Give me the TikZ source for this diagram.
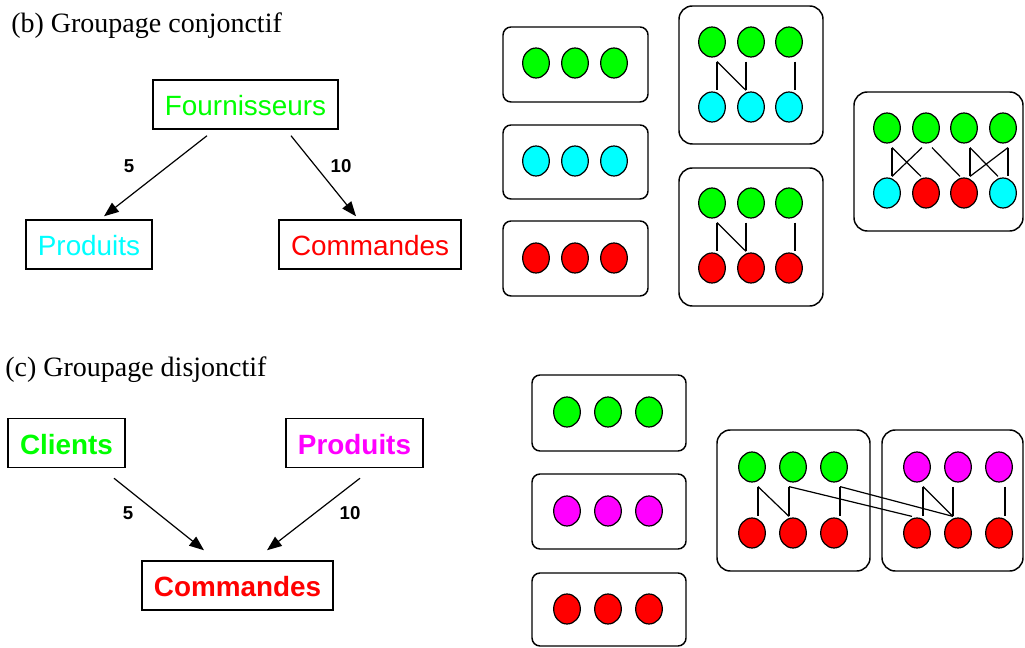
\documentclass[tikz,border=0pt]{standalone}
\usepackage{fontspec}
\setmainfont{Liberation Serif}
\setsansfont{Liberation Sans}
\usepackage{tikz}
\usetikzlibrary{arrows.meta,shapes.geometric,calc}

\definecolor{vert}{RGB}{0,255,0}
\definecolor{bleu}{RGB}{0,255,255}
\definecolor{rouge}{RGB}{255,0,0}
\definecolor{rose}{RGB}{255,0,255}

\tikzset{
    titre/.style={anchor=base west, inner sep=0pt, font=\fontsize{21}{25}\selectfont},
    table/.style={draw, line width=1.1pt, inner xsep=9pt, inner ysep=0pt,
        minimum height=36.75pt, text height=18pt, text depth=1pt,
        font=\sffamily\fontsize{20.9}{25}\selectfont},
    poids/.style={font=\sffamily\bfseries\fontsize{14}{17}\selectfont},
    fleche/.style={line width=0.9pt, -{Triangle[length=11pt,width=8.5pt]}},
    tuple/.style={ellipse, draw, line width=0.9pt, minimum width=20pt,
        minimum height=22.5pt, inner sep=0pt},
    groupe/.style={draw, line width=1.1pt, rounded corners=6pt},
    jointure/.style={draw, line width=1.1pt, rounded corners=10pt},
    lien/.style={line width=0.9pt}
}

\newcommand{\lien}[4]{\draw[lien] ($(#1.south)+(#2,4)$) -- ($(#3.north)+(#4,-1)$);}

\begin{document}
\begin{tikzpicture}[x=0.75pt,y=-0.75pt]
            \useasboundingbox (0,0) rectangle (1025,648);

            % (b) conjonctif
            \node[titre] (tb) at (11,33) {(b) Groupage conjonctif};
            \node[table,text=vert] (four) at (245.5,104.5) {Fournisseurs};
            \node[table,text=bleu] (prodb) at (89,244.5) {Produits};
            \node[table,text=rouge] (commb) at (370,244.5) {Commandes};
            \draw[fleche] ($(four.south)+(-38.5,6)$) -- ($(prodb.north)+(15,-3)$);
            \draw[fleche] ($(four.south)+(45.5,6)$) -- ($(commb.north)+(-14,-3)$);
            \node[poids] (pb1) at (129,166) {5};
            \node[poids] (pb2) at (341,166) {10};

            \draw[groupe] (503,27) rectangle (648,102);
            \draw[groupe] (503,125) rectangle (648,199);
            \draw[groupe] (503,221) rectangle (648,296);
            \foreach \x [count=\i] in {536,575,614} {
                \node[tuple,fill=vert] (f\i) at (\x,63) {};
                \node[tuple,fill=bleu] (p\i) at (\x,161) {};
                \node[tuple,fill=rouge] (c\i) at (\x,258) {};
            }

            \draw[jointure] (679,6) rectangle (823,144);
            \draw[jointure] (679,168) rectangle (823,306);
            \foreach \x [count=\i] in {712,751,789} {
                \node[tuple,fill=vert] (ja\i) at (\x,42) {};
                \node[tuple,fill=bleu] (jb\i) at (\x,107) {};
                \node[tuple,fill=vert] (ka\i) at (\x,203) {};
                \node[tuple,fill=rouge] (kb\i) at (\x,268) {};
            }
            \lien{ja1}{5}{jb1}{5}
            \lien{ja1}{5}{jb2}{-5}
            \lien{ja2}{-5}{jb2}{-5}
            \lien{ja3}{6}{jb3}{6}
            \lien{ka1}{5}{kb1}{5}
            \lien{ka1}{5}{kb2}{-5}
            \lien{ka2}{-5}{kb2}{-5}
            \lien{ka3}{6}{kb3}{6}

            \draw[jointure] (854,92) rectangle (1023,231);
            \foreach \x [count=\i] in {887,926,964,1003}
                \node[tuple,fill=vert] (la\i) at (\x,128) {};
            \node[tuple,fill=bleu] (lb1) at (887,193) {};
            \node[tuple,fill=rouge] (lb2) at (926,193) {};
            \node[tuple,fill=rouge] (lb3) at (964,193) {};
            \node[tuple,fill=bleu] (lb4) at (1003,193) {};
            \lien{la1}{5}{lb1}{5}
            \lien{la1}{5}{lb2}{-5}
            \lien{la2}{-4}{lb1}{5}
            \lien{la2}{6}{lb3}{-4}
            \lien{la3}{6}{lb3}{6}
            \lien{la3}{6}{lb4}{-5}
            \lien{la4}{5}{lb3}{6}
            \lien{la4}{5}{lb4}{5}

            % (c) disjonctif
            \node[titre] (tc) at (5,377) {(c) Groupage disjonctif};
            \node[table,text=vert,font=\sffamily\bfseries\fontsize{20.9}{25}\selectfont] (cli) at (66.5,443) {Clients};
            \node[table,text=rose,font=\sffamily\bfseries\fontsize{20.9}{25}\selectfont] (prodc) at (354.5,443) {Produits};
            \node[table,text=rouge,font=\sffamily\bfseries\fontsize{20.9}{25}\selectfont] (commc) at (237.5,585.5) {Commandes};
            \draw[fleche] ($(cli.south)+(47.5,10)$) -- ($(commc.north)+(-33.5,-10)$);
            \draw[fleche] ($(prodc.south)+(5.5,10)$) -- ($(commc.north)+(29.5,-10)$);
            \node[poids] (pc1) at (128,513) {5};
            \node[poids] (pc2) at (350,513) {10};

            \draw[groupe] (532,375) rectangle (686,451);
            \draw[groupe] (532,474) rectangle (686,549);
            \draw[groupe] (532,573) rectangle (686,646);
            \foreach \x [count=\i] in {567,608,649} {
                \node[tuple,fill=vert] (cl\i) at (\x,412) {};
                \node[tuple,fill=rose] (pr\i) at (\x,511) {};
                \node[tuple,fill=rouge] (co\i) at (\x,609) {};
            }

            \draw[jointure] (717,430) rectangle (870,571);
            \draw[jointure] (882,430) rectangle (1023,571);
            \foreach \x [count=\i] in {752,793,834} {
                \node[tuple,fill=vert] (ga\i) at (\x,467) {};
                \node[tuple,fill=rouge] (gb\i) at (\x,533) {};
            }
            \foreach \x [count=\i] in {917,958,999} {
                \node[tuple,fill=rose] (ha\i) at (\x,467) {};
                \node[tuple,fill=rouge] (hb\i) at (\x,533) {};
            }
            \lien{ga1}{6}{gb1}{6}
            \lien{ga1}{6}{gb2}{-4}
            \lien{ga2}{-4}{gb2}{-4}
            \lien{ga2}{-4}{hb1}{-5}
            \lien{ga3}{6}{gb3}{6}
            \lien{ga3}{6}{hb2}{-5}
            \lien{ha1}{6}{hb1}{6}
            \lien{ha1}{6}{hb2}{-5}
            \lien{ha2}{-5}{hb2}{-5}
            \lien{ha3}{6}{hb3}{6}
        \end{tikzpicture}
\end{document}
